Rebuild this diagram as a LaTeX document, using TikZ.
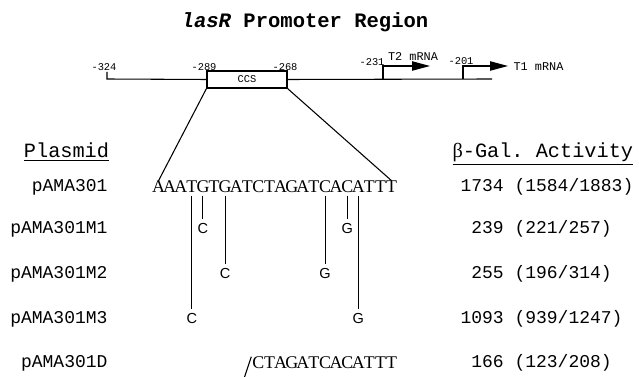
\documentclass[tikz,border=0pt]{standalone}
\usepackage{fontspec}
\setmonofont{Liberation Mono}
\newfontfamily\seqfont{Liberation Serif}
\newfontfamily\mutfont{Liberation Sans}
\usetikzlibrary{arrows.meta, positioning}

\tikzset{
  poslabel/.style={font=\ttfamily\fontsize{7.8}{9}\selectfont, inner sep=0pt},
  mrna/.style={font=\ttfamily\fontsize{8.9}{10}\selectfont, inner sep=0pt},
  header/.style={font=\ttfamily\fontsize{15.2}{17}\selectfont, inner sep=0pt, anchor=base},
  rowlabel/.style={font=\ttfamily\fontsize{13.5}{15}\selectfont, inner sep=0pt, anchor=base east},
  activity/.style={font=\ttfamily\fontsize{13.5}{15}\selectfont, inner sep=0pt, anchor=base west},
  seqletter/.style={font=\seqfont\fontsize{13.4}{15}\selectfont, inner sep=0pt, anchor=base},
  mutletter/.style={font=\mutfont\fontsize{10.9}{12}\selectfont, inner sep=0pt, anchor=base},
  mutline/.style={shorten <=1.5pt, shorten >=3pt},
  tss/.style={-{Triangle[length=13.5pt,width=7pt]}, line width=0.9pt}
}

\begin{document}
\begin{tikzpicture}[x=0.75pt, y=-0.75pt, line width=0.8pt]
  \useasboundingbox (0,0) rectangle (639,377);

  % title
  \node[font=\ttfamily\bfseries\fontsize{15.4}{18}\selectfont, inner sep=0pt, anchor=base] (title) at (305,28) {\textit{lasR} Promoter Region};

  % promoter map
  \node[draw, fill=white, minimum width=60pt, minimum height=12.75pt, inner sep=0pt, font=\ttfamily\fontsize{7.8}{9}\selectfont] (ccs) at (247,79.5) {CCS};
  \draw (107,72) -- (107,79) -- (ccs.west);
  \draw (ccs.east) -- (492,79);
  \node[poslabel] at (104,67) {-324};
  \node[poslabel] at (204,67) {-289};
  \node[poslabel] at (285,67) {-268};

  \coordinate (t2) at (383,79);
  \coordinate (t1) at (463,79);
  \draw[tss] (t2) |- (430,66);
  \draw[tss] (t1) |- (508,66);
  \node[poslabel] at (372,62) {-231};
  \node[mrna] at (413,57) {T2 mRNA};
  \node[poslabel] at (461,61) {-201};
  \node[mrna, anchor=west] at (513,67) {T1 mRNA};

  % headers
  \node[header] (hplasmid) at (66.5,158) {\underline{Plasmid}};
  \node[header, anchor=base west] (hgal) at (452,158) {\underline{{\seqfont β}-Gal. Activity}};

  % rows
  \coordinate (row1) at (0,234);
  \coordinate (row2) at (0,279);
  \coordinate (row3) at (0,324);

  \foreach \b [count=\i] in {A,A,A,T,G,T,G,A,T,C,T,A,G,A,T,C,A,C,A,T,T,T}
    \node[seqletter] (s\i) at ({147.45+11.1*\i},193) {\b};
  \draw (ccs.south west) -- (s1.north);
  \draw (ccs.south east) -- (s22.north);

  % point mutations
  \node[mutletter] (m1a) at (s5.base |- row1) {C};
  \node[mutletter] (m1b) at (s18.base |- row1) {G};
  \node[mutletter] (m2a) at (s7.base |- row2) {C};
  \node[mutletter] (m2b) at (s16.base |- row2) {G};
  \node[mutletter] (m3a) at (s4.base |- row3) {C};
  \node[mutletter] (m3b) at (s19.base |- row3) {G};
  \foreach \s/\m in {s5/m1a, s18/m1b, s7/m2a, s16/m2b, s4/m3a, s19/m3b}
    \draw[mutline] (\s.south) -- (\m.north);

  % deletion
  \foreach \b [count=\i from 10] in {C,T,A,G,A,T,C,A,C,A,T,T,T}
    \node[seqletter] (d\i) at ({147.45+11.1*\i},369) {\b};
  \coordinate (cut) at ([xshift=-0.5pt]d10.south west);
  \draw ([shift={(-7,8)}]cut) -- ([shift={(0,-13)}]cut);

  \node[rowlabel] (p0) at (108,192) {pAMA301};
  \node[rowlabel] (p1) at (108,234) {pAMA301M1};
  \node[rowlabel] (p2) at (108,279) {pAMA301M2};
  \node[rowlabel] (p3) at (108,324) {pAMA301M3};
  \node[rowlabel] (p4) at (108,368) {pAMA301D};

  \node[activity] (a0) at (460,192) {1734 (1584/1883)};
  \node[activity] (a1) at (460,234) {\phantom{1}239 (221/257)};
  \node[activity] (a2) at (460,279) {\phantom{1}255 (196/314)};
  \node[activity] (a3) at (460,324) {1093 (939/1247)};
  \node[activity] (a4) at (460,368) {\phantom{1}166 (123/208)};
\end{tikzpicture}
\end{document}
